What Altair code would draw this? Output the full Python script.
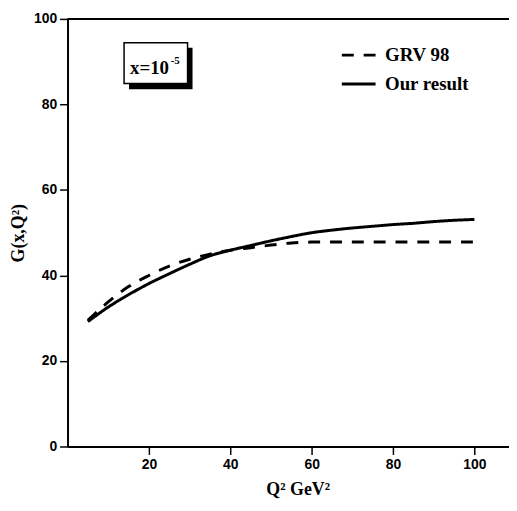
import altair as alt
import pandas as pd

# Q^2 grid (GeV^2)
q2 = [5, 10, 15, 20, 25, 30, 35, 40, 45, 50, 55, 60, 65, 70, 75, 80, 85, 90, 95, 100]
# "Our result" (solid)
our_result = [29.2, 32.6, 35.5, 38.1, 40.4, 42.6, 44.6, 45.9, 47.0, 48.1, 49.1, 50.0,
              50.6, 51.1, 51.5, 51.9, 52.2, 52.6, 52.9, 53.1]
# GRV 98 (dashed)
grv98 = [29.5, 33.8, 37.4, 40.0, 42.2, 43.8, 45.0, 45.9, 46.5, 47.1, 47.6, 47.8,
         47.8, 47.8, 47.8, 47.8, 47.8, 47.8, 47.8, 47.8]

series_names = ["GRV 98", "Our result"]
x_ticks = [20, 40, 60, 80, 100]
y_ticks = [0, 20, 40, 60, 80, 100]

rows = []
for name, vals in zip(series_names, [grv98, our_result]):
    for q, g in zip(q2, vals):
        rows.append({"Q2": q, "G": g, "series": name})
df = pd.DataFrame(rows)

W, H = 445, 431
xscale = alt.Scale(domain=[0, 108.5], nice=False, zero=False)
yscale = alt.Scale(domain=[0, 100], nice=False)

lines = alt.Chart(df).mark_line(
    strokeWidth=3, interpolate="monotone", color="black", clip=True
).encode(
    x=alt.X("Q2:Q", scale=xscale,
            axis=alt.Axis(values=x_ticks, title="Q² GeV²", titleX=232, titlePadding=9)),
    y=alt.Y("G:Q", scale=yscale,
            axis=alt.Axis(values=y_ticks, title="G(x,Q²)", titlePadding=6)),
    strokeDash=alt.StrokeDash(
        "series:N",
        scale=alt.Scale(domain=series_names, range=[[12, 10], [1, 0]]),
        legend=alt.Legend(
            title=None, orient="none", legendX=275, legendY=18,
            symbolType="stroke", symbolSize=1156, symbolStrokeWidth=3,
            symbolStrokeColor="black",
            labelFont="Liberation Serif", labelFontSize=19, labelFontWeight="bold",
            labelColor="black", rowPadding=-7, labelOffset=8,
        ),
    ),
)

top_border = alt.Chart(pd.DataFrame({"a": [0]})).mark_rule(
    color="black", strokeWidth=2
).encode(y=alt.datum(100), x=alt.datum(0), x2=alt.datum(108.5))

# annotation box "x=10^-5" with shadow
shadow = alt.Chart(pd.DataFrame({"a": [0]})).mark_rect(color="black").encode(
    x=alt.value(62), x2=alt.value(126), y=alt.value(29), y2=alt.value(71)
)
box = alt.Chart(pd.DataFrame({"a": [0]})).mark_rect(
    fill="white", stroke="black", strokeWidth=1.5
).encode(x=alt.value(57), x2=alt.value(121), y=alt.value(24), y2=alt.value(65))
label_main = alt.Chart(pd.DataFrame({"a": [0]})).mark_text(
    text="x=10", font="Liberation Serif", fontSize=19, fontWeight="bold",
    align="left", baseline="alphabetic", color="black"
).encode(x=alt.value(63), y=alt.value(56))
label_sup = alt.Chart(pd.DataFrame({"a": [0]})).mark_text(
    text="-5", font="Liberation Serif", fontSize=11, fontWeight="bold",
    align="left", baseline="alphabetic", color="black"
).encode(x=alt.value(104), y=alt.value(45))

chart = alt.layer(lines, top_border, shadow, box, label_main, label_sup).properties(
    width=W, height=H, autosize="none",
    padding={"left": 60, "top": 9, "right": 0, "bottom": 60},
).configure_view(stroke=None).configure_axis(
    grid=False,
    domainColor="black", domainWidth=2,
    tickColor="black", tickWidth=1.5, tickSize=8,
    labelFont="Liberation Sans", labelFontSize=14, labelFontWeight="bold",
    labelColor="black", labelPadding=3,
    titleFont="Liberation Serif", titleFontSize=18, titleFontWeight="bold",
    titleColor="black",
)

chart.save("out.html", embed_options={"renderer": "svg", "actions": False})
